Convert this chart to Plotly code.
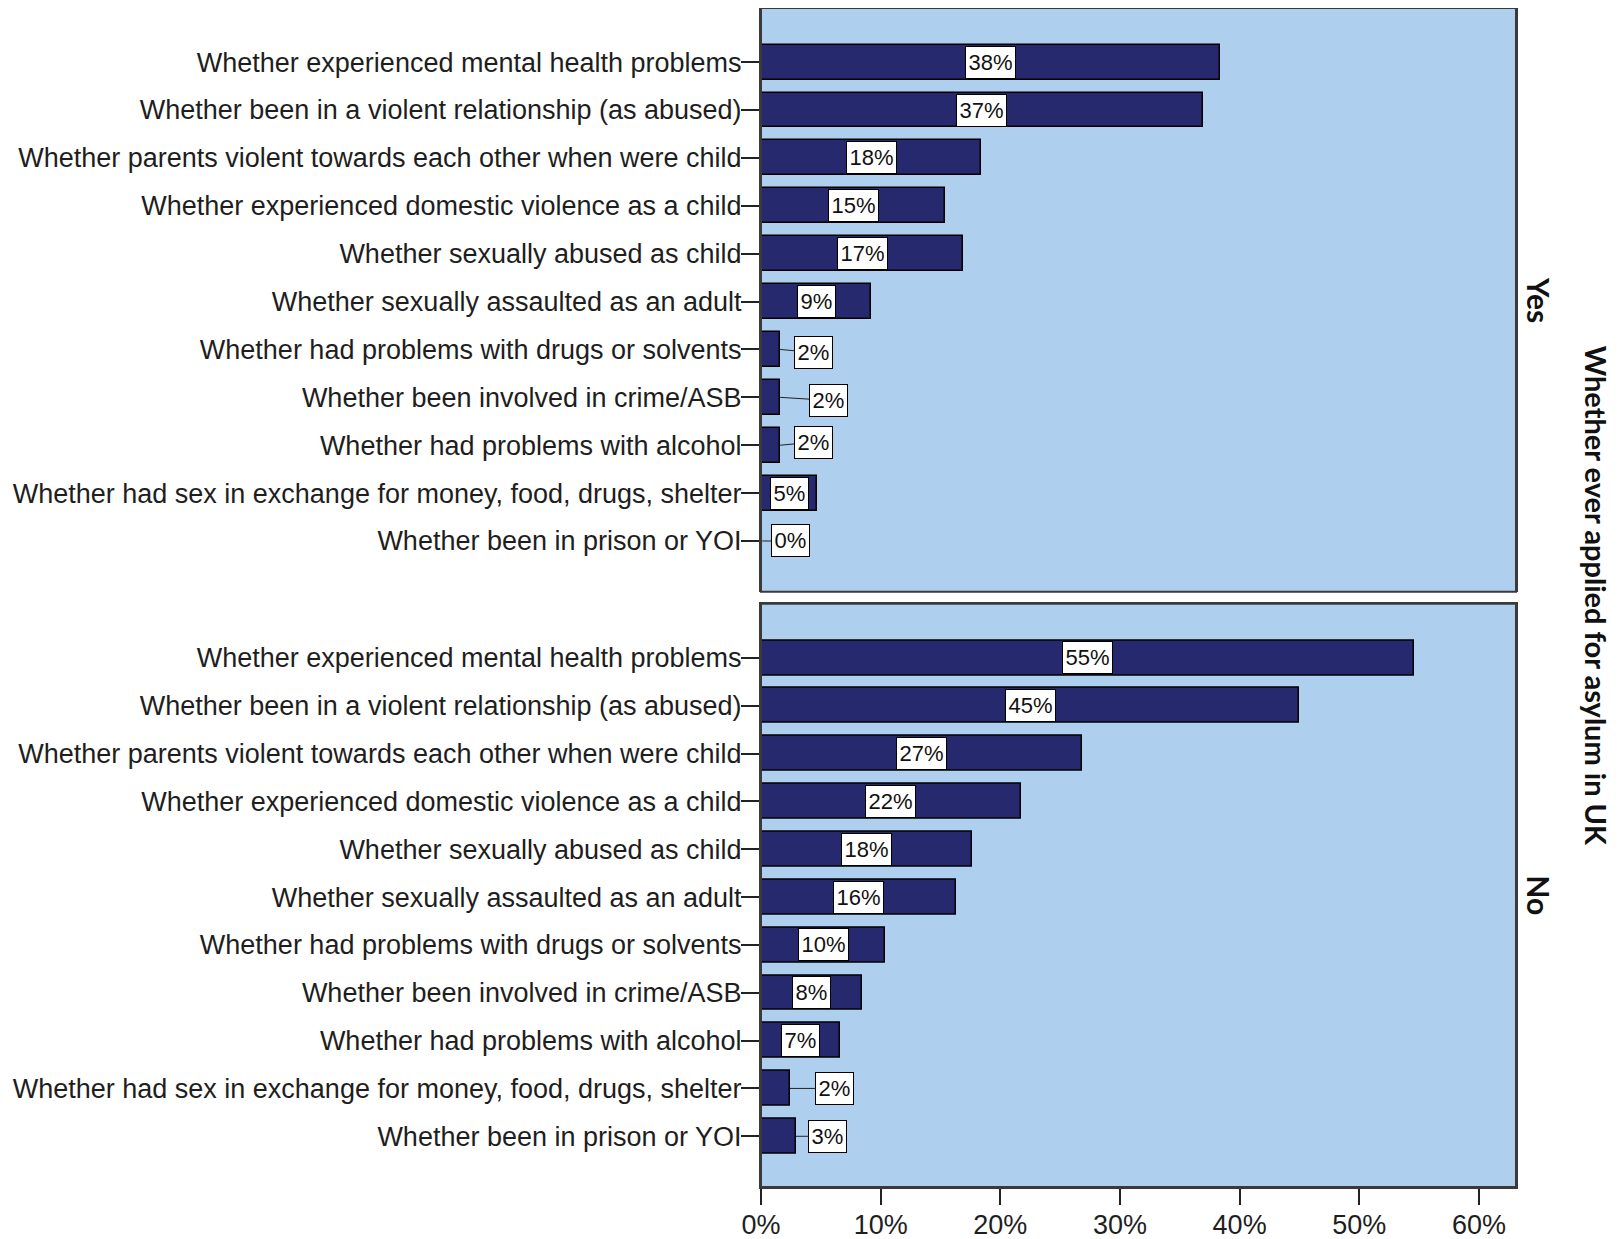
import plotly.graph_objects as go

# ---- data ----
categories = [
    "Whether experienced mental health problems",
    "Whether been in a violent relationship (as abused)",
    "Whether parents violent towards each other when were child",
    "Whether experienced domestic violence as a child",
    "Whether sexually abused as child",
    "Whether sexually assaulted as an adult",
    "Whether had problems with drugs or solvents",
    "Whether been involved in crime/ASB",
    "Whether had problems with alcohol",
    "Whether had sex in exchange for money, food, drugs, shelter",
    "Whether been in prison or YOI",
]
panels = ["Yes", "No"]
yes_values = [38.4, 36.9, 18.4, 15.4, 16.9, 9.2, 1.6, 1.6, 1.6, 4.7, 0.1]
no_values = [54.6, 45.0, 26.8, 21.7, 17.6, 16.3, 10.4, 8.4, 6.6, 2.4, 2.9]
x_ticks = [0, 10, 20, 30, 40, 50, 60]
x_tick_labels = ["0%", "10%", "20%", "30%", "40%", "50%", "60%"]
title_text = "Whether ever applied for asylum in UK"

# ---- style ----
# the page body has an 8px margin, so the figure is sized/offset to compensate
OFF = 8
W, H = 1622 - OFF, 1239 - OFF
P_LEFT, P_RIGHT = 761 - OFF, 1516 - OFF          # panel edges in figure px
TOP_T, TOP_B = 8 - OFF, 592 - OFF
BOT_T, BOT_B = 604 - OFF, 1187.5 - OFF
ML, MR, MT, MB = P_LEFT, W - P_RIGHT, TOP_T, H - BOT_B
BAR = "#27296E"
BG = "#AECFEE"
FRAME = "#3a3a3a"
TICK_FONT = dict(family="Liberation Sans, Arial, sans-serif", size=27, color="#1e1e1e")
LBL_FONT = dict(family="Liberation Sans, Arial, sans-serif", size=22, color="#111111")
RIGHT_FONT = dict(family="Lato, Open Sans, sans-serif", size=29, color="#111111")
YESNO_FONT = dict(family="Lato, Open Sans, sans-serif", size=30, color="#111111")

plot_h = H - MT - MB
plot_w = W - ML - MR
top_dom = [(BOT_B - TOP_B) / plot_h, 1.0]
bot_dom = [0.0, (BOT_B - BOT_T) / plot_h]

fig = go.Figure()
series = [yes_values, no_values]
yaxes = ["y", "y2"]
for vals, ya in zip(series, yaxes):
    fig.add_trace(go.Bar(
        x=vals, y=categories, orientation="h", yaxis=ya, xaxis="x",
        marker=dict(color=BAR, line=dict(color="#000000", width=1.5)),
        width=0.73, showlegend=False, hoverinfo="skip",
    ))

# label offsets (pixels) for small bars whose labels sit outside
offsets = {
    ("y", 6): (33, 3), ("y", 7): (48, 3), ("y", 8): (33, -3), ("y", 10): (28, 0),
    ("y2", 9): (45, 0), ("y2", 10): (32, 0),
}
annotations = []
for vals, ya in zip(series, yaxes):
    for i, (cat, v) in enumerate(zip(categories, vals)):
        txt = f"{round(v)}%"
        bw = 47 if len(txt) == 3 else 35
        common = dict(text=txt, font=LBL_FONT, bgcolor="#ffffff", bordercolor="#000000",
                      borderwidth=1, borderpad=1, width=bw, height=29,
                      xref="x", yref=ya, y=cat)
        if (ya, i) in offsets:
            dx, dy = offsets[(ya, i)]
            annotations.append(dict(x=v, ax=dx, ay=dy, showarrow=True, arrowhead=0,
                                    arrowwidth=1, arrowcolor="#222222", standoff=0,
                                    startstandoff=0, **common))
        else:
            annotations.append(dict(x=v / 2, showarrow=False, **common))

# right-side panel labels and title
annotations.append(dict(text="<b>Yes</b>", xref="paper", yref="paper", x=(1539 - OFF - ML) / plot_w,
                        y=(top_dom[0] + top_dom[1]) / 2, showarrow=False, textangle=90, font=YESNO_FONT,
                        xanchor="center", yanchor="middle"))
annotations.append(dict(text="<b>No</b>", xref="paper", yref="paper", x=(1539 - OFF - ML) / plot_w,
                        y=(bot_dom[0] + bot_dom[1]) / 2, showarrow=False, textangle=90, font=YESNO_FONT,
                        xanchor="center", yanchor="middle"))
annotations.append(dict(text=f"<b>{title_text}</b>", xref="paper", yref="paper",
                        x=(1596 - OFF - ML) / plot_w, y=(BOT_B - (596 - OFF)) / plot_h,
                        showarrow=False, textangle=90, font=RIGHT_FONT,
                        xanchor="center", yanchor="middle"))

yaxis_common = dict(
    type="category", categoryorder="array", categoryarray=categories,
    range=[len(categories) - 1 + 1.06, -1.13],
    showline=True, linecolor=FRAME, linewidth=2, mirror=True,
    ticks="outside", ticklen=18, tickwidth=1.5, tickcolor="#222222",
    ticklabelstandoff=-6,
    tickfont=TICK_FONT, showgrid=False, zeroline=False, fixedrange=True,
    automargin=False,
)

fig.update_layout(
    width=W, height=H,
    margin=dict(l=ML, r=MR, t=MT, b=MB, pad=0, autoexpand=False),
    paper_bgcolor="#ffffff", plot_bgcolor=BG,
    bargap=0,
    xaxis=dict(range=[0, 63.1], tickvals=x_ticks, ticktext=x_tick_labels, ticks="outside", ticklen=16,
               tickwidth=1.5, tickcolor="#222222", tickfont=TICK_FONT, showgrid=False,
               ticklabelstandoff=-3,
               zeroline=False, showline=True, linecolor=FRAME, linewidth=2, mirror=True,
               anchor="y2", domain=[0, 1], automargin=False),
    xaxis2=dict(range=[0, 63.1], showticklabels=False, ticks="", showgrid=False,
                zeroline=False, showline=True, linecolor=FRAME, linewidth=2, mirror=True,
                anchor="y", overlaying="x", matches="x", automargin=False),
    yaxis=dict(domain=top_dom, anchor="x", **yaxis_common),
    yaxis2=dict(domain=bot_dom, anchor="x", **yaxis_common),
    annotations=annotations,
)

# frames around each panel
fig.add_shape(type="rect", xref="paper", yref="paper", x0=0, x1=1, y0=top_dom[0], y1=top_dom[1],
              line=dict(color=FRAME, width=2), layer="above")
fig.add_shape(type="rect", xref="paper", yref="paper", x0=0, x1=1, y0=bot_dom[0], y1=bot_dom[1],
              line=dict(color=FRAME, width=2), layer="above")

fig.write_html("out.html")
